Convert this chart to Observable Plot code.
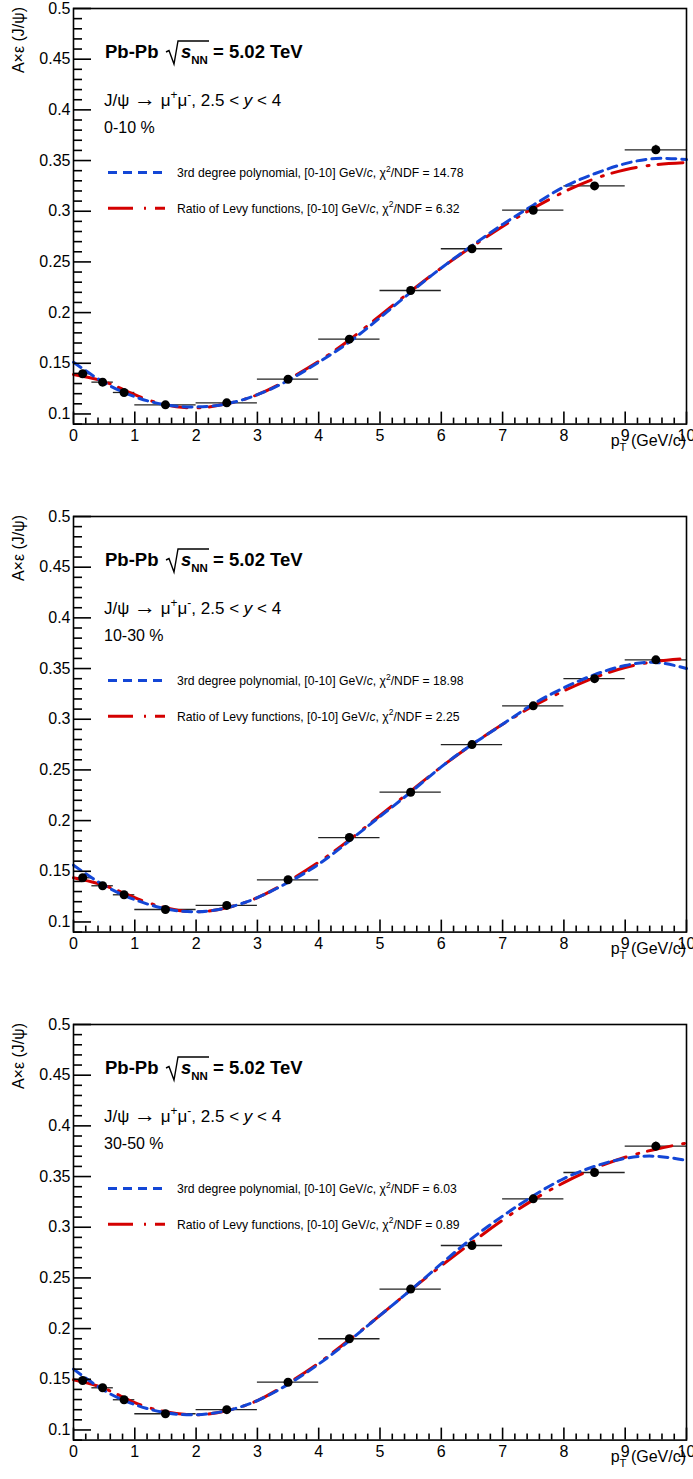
<!DOCTYPE html>
<html><head><meta charset="utf-8">
<script src="https://cdn.jsdelivr.net/npm/d3@7"></script>
<script src="https://cdn.jsdelivr.net/npm/@observablehq/plot@0.6"></script>
<style>
body{margin:0;background:#fff;}
#charts{width:693px;}
#charts svg{display:block;}
</style></head><body><div id="charts"></div>
<script>
// ---- data ----
const binLo = [0, 0.3, 0.65, 1, 2, 3, 4, 5, 6, 7, 8, 9];
const binHi = [0.3, 0.65, 1, 2, 3, 4, 5, 6, 7, 8, 9, 10];
const ptCenter = [0.15, 0.475, 0.825, 1.5, 2.5, 3.5, 4.5, 5.5, 6.5, 7.5, 8.5, 9.5];
const accEff_0_10  = [0.1397, 0.1314, 0.1212, 0.109, 0.111, 0.1343, 0.1738, 0.2218, 0.263, 0.301, 0.325, 0.3606];
const accEff_10_30 = [0.1436, 0.1357, 0.1268, 0.1123, 0.1163, 0.1416, 0.1833, 0.228, 0.275, 0.3132, 0.340, 0.3586];
const accEff_30_50 = [0.1488, 0.1416, 0.1298, 0.116, 0.120, 0.1471, 0.190, 0.239, 0.282, 0.328, 0.354, 0.380];
const accErr_0_10  = [0, 0, 0, 0, 0, 0, 0, 0, 0, 0, 0.002, 0.0045];
const accErr_10_30 = [0, 0, 0, 0, 0, 0, 0, 0, 0, 0, 0.002, 0.003];
const accErr_30_50 = [0, 0, 0, 0, 0, 0, 0, 0, 0, 0, 0.002, 0.004];

// fit curves at these pT values
const curvePt = [0, 0.5, 1, 1.5, 2, 2.5, 3, 3.5, 4, 4.5, 5, 5.5, 6, 6.5, 7, 7.5, 8, 8.5, 9, 9.5, 10];
const poly_0_10  = [0.151, 0.131, 0.117, 0.109, 0.107, 0.110, 0.119, 0.133, 0.151, 0.171, 0.195, 0.220, 0.244, 0.266, 0.287, 0.306, 0.324, 0.337, 0.347, 0.352, 0.351];
const levy_0_10  = [0.139, 0.132, 0.119, 0.109, 0.106, 0.110, 0.119, 0.134, 0.152, 0.173, 0.197, 0.221, 0.244, 0.265, 0.285, 0.303, 0.319, 0.332, 0.341, 0.346, 0.348];
const poly_10_30 = [0.156, 0.136, 0.122, 0.113, 0.110, 0.114, 0.124, 0.139, 0.157, 0.180, 0.204, 0.228, 0.253, 0.275, 0.295, 0.315, 0.331, 0.344, 0.353, 0.356, 0.350];
const levy_10_30 = [0.1436, 0.136, 0.124, 0.114, 0.110, 0.114, 0.124, 0.140, 0.159, 0.181, 0.205, 0.229, 0.253, 0.275, 0.295, 0.313, 0.328, 0.341, 0.351, 0.357, 0.360];
const poly_30_50 = [0.160, 0.139, 0.125, 0.117, 0.115, 0.119, 0.129, 0.145, 0.165, 0.188, 0.213, 0.238, 0.264, 0.289, 0.311, 0.331, 0.348, 0.360, 0.368, 0.370, 0.366];
const levy_30_50 = [0.1495, 0.141, 0.127, 0.118, 0.115, 0.119, 0.129, 0.146, 0.166, 0.189, 0.213, 0.238, 0.262, 0.285, 0.307, 0.327, 0.344, 0.358, 0.369, 0.377, 0.383];

const centralities = ["0-10 %", "10-30 %", "30-50 %"];
const chi2Poly = ["14.78", "18.98", "6.03"];
const chi2Levy = ["6.32", "2.25", "0.89"];

const yMajorTicks = [0.1, 0.15, 0.2, 0.25, 0.3, 0.35, 0.4, 0.45, 0.5];
const yTickLabels = ["0.1", "0.15", "0.2", "0.25", "0.3", "0.35", "0.4", "0.45", "0.5"];
const xMajorTicks = [0, 1, 2, 3, 4, 5, 6, 7, 8, 9, 10];
const xTickLabels = ["0", "1", "2", "3", "4", "5", "6", "7", "8", "9", "10"];

const panels = [
  {acc: accEff_0_10, err: accErr_0_10, poly: poly_0_10, levy: levy_0_10},
  {acc: accEff_10_30, err: accErr_10_30, poly: poly_10_30, levy: levy_10_30},
  {acc: accEff_30_50, err: accErr_30_50, poly: poly_30_50, levy: levy_30_50}
];

// ---- styling ----
const FONT = "'Liberation Sans', Arial, Helvetica, sans-serif";
const BLUE = "#1346d6", RED = "#d40000";
const BLUE_DASH = "9,6", RED_DASH = "25,11,2,9";
const Y_DOMAIN = [0.09, 0.5], X_DOMAIN = [0, 10];
const yMinorTicks = d3.range(0.09, 0.5001, 0.01).map(v => +v.toFixed(2)).filter(v => !yMajorTicks.some(m => Math.abs(m - v) < 1e-6));
const xMinorTicks = d3.range(0, 10.001, 0.2).map(v => +v.toFixed(1)).filter(v => !xMajorTicks.includes(v));

const W = 693, ML = 73, MR = 7, MT = 8, BOTTOM = 423.6;
const frameW = W - ML - MR, frameH = BOTTOM - MT;
// pixel tick lengths converted to data units
const kx = frameW / (X_DOMAIN[1] - X_DOMAIN[0]);
const ky = frameH / (Y_DOMAIN[1] - Y_DOMAIN[0]);
const AXIS_W = 1.6;

function rich(g, x, y, size, parts, attrs = {}) {
  const t = g.append("text").attr("x", x).attr("y", y).attr("font-size", size)
    .attr("font-family", FONT).attr("fill", "black").attr("text-anchor", "start").style("white-space", "pre");
  for (const [k, v] of Object.entries(attrs)) t.attr(k, v);
  let shift = 0;
  for (const p of parts) {
    const target = p.sup ? -0.42 * size : p.sub ? 0.3 * size : 0;
    const ts = t.append("tspan").attr("dy", target - shift).text(p.t);
    shift = target;
    if (p.sup || p.sub) ts.attr("font-size", size * (p.scale || 0.7));
    if (p.size) ts.attr("font-size", p.size);
    if (p.italic) ts.attr("font-style", "italic");
    if (p.bold) ts.attr("font-weight", "bold");
  }
  return t;
}

const container = document.getElementById("charts");
const heights = [508, 508, 463];

panels.forEach((p, i) => {
  const H = heights[i];
  const pts = ptCenter.map((c, k) => ({c, lo: binLo[k], hi: binHi[k], v: p.acc[k], e: p.err[k]}));
  const polyPts = curvePt.map((x, k) => ({x, y: p.poly[k]}));
  const levyPts = curvePt.map((x, k) => ({x, y: p.levy[k]}));
  const chart = Plot.plot({
    width: W, height: H,
    marginLeft: ML, marginRight: MR, marginTop: MT, marginBottom: H - BOTTOM,
    x: {domain: X_DOMAIN, axis: null},
    y: {domain: Y_DOMAIN, axis: null},
    style: {fontFamily: FONT, background: "white", color: "black", overflow: "hidden"},
    marks: [
      Plot.ruleY(pts, {x1: "lo", x2: "hi", y: "v", stroke: "#222", strokeWidth: 1.3}),
      Plot.ruleX(pts.filter(d => d.e > 0), {x: "c", y1: d => d.v - d.e, y2: d => d.v + d.e, stroke: "#222", strokeWidth: 1.3}),
      Plot.line(levyPts, {x: "x", y: "y", curve: "natural", stroke: RED, strokeWidth: 3, strokeDasharray: RED_DASH}),
      Plot.line(polyPts, {x: "x", y: "y", curve: "natural", stroke: BLUE, strokeWidth: 3, strokeDasharray: BLUE_DASH}),
      Plot.dot(pts, {x: "c", y: "v", r: 4.5, fill: "black"}),
      // inward ticks on the left and bottom frame edges
      Plot.ruleY(yMajorTicks, {y: d => d, x1: X_DOMAIN[0], x2: X_DOMAIN[0] + 18 / kx, stroke: "black", strokeWidth: AXIS_W}),
      Plot.ruleY(yMinorTicks, {y: d => d, x1: X_DOMAIN[0], x2: X_DOMAIN[0] + 9 / kx, stroke: "black", strokeWidth: AXIS_W}),
      Plot.ruleX(xMajorTicks, {x: d => d, y1: Y_DOMAIN[0], y2: Y_DOMAIN[0] + 12 / ky, stroke: "black", strokeWidth: AXIS_W}),
      Plot.ruleX(xMinorTicks, {x: d => d, y1: Y_DOMAIN[0], y2: Y_DOMAIN[0] + 6 / ky, stroke: "black", strokeWidth: AXIS_W}),
      Plot.frame({stroke: "black", strokeWidth: AXIS_W}),
      // tick labels
      Plot.text(yMajorTicks, {x: X_DOMAIN[0], y: d => d, text: (d, k) => yTickLabels[k], textAnchor: "end", dx: -3, fontSize: 16, lineAnchor: "middle"}),
      Plot.text(xMajorTicks, {x: d => d, y: Y_DOMAIN[0], text: (d, k) => xTickLabels[k], textAnchor: "middle", dy: 6, fontSize: 16, lineAnchor: "top"})
    ]
  });
  const svg = d3.select(chart);
  const g = svg.append("g");
  // axis titles
  rich(g, 686, 446, 16, [{t: "p"}, {t: "T", sub: true}, {t: " (GeV/c)"}], {"text-anchor": "end"});
  rich(g, 0, 0, 16, [{t: "A×ε (J/ψ)"}], {"text-anchor": "end", transform: "translate(24,7) rotate(-90)"});
  // header
  rich(g, 105, 58.3, 18.5, [{t: "Pb-Pb"}], {"font-weight": "bold"});
  // radical sign
  g.append("path").attr("d", "M166,52 L169,50.5 L174,64 L178,41 L209,41").attr("fill", "none").attr("stroke", "black").attr("stroke-width", 1.4);
  rich(g, 181, 58.3, 18.5, [{t: "s", italic: true}, {t: "NN", sub: true, scale: 0.62}], {"font-weight": "bold"});
  rich(g, 213, 58.3, 18.5, [{t: "= 5.02 TeV"}], {"font-weight": "bold"});
  rich(g, 104, 106, 17, [{t: "J/ψ "}, {t: "→", size: 22}, {t: " μ"}, {t: "+", sup: true}, {t: "μ"}, {t: "-", sup: true}, {t: ", 2.5 < "}, {t: "y", italic: true}, {t: " < 4"}]);
  rich(g, 104, 133.3, 16, [{t: centralities[i]}]);
  // legend
  g.append("line").attr("x1", 108).attr("x2", 165).attr("y1", 172.5).attr("y2", 172.5)
    .attr("stroke", BLUE).attr("stroke-width", 3).attr("stroke-dasharray", BLUE_DASH);
  g.append("line").attr("x1", 108).attr("x2", 165).attr("y1", 208.3).attr("y2", 208.3)
    .attr("stroke", RED).attr("stroke-width", 3).attr("stroke-dasharray", RED_DASH);
  rich(g, 177, 176.8, 12.2, [{t: "3rd degree polynomial, [0-10] GeV/"}, {t: "c", italic: true}, {t: ", χ"}, {t: "2", sup: true}, {t: "/NDF = " + chi2Poly[i]}]);
  rich(g, 177, 212.6, 12.2, [{t: "Ratio of Levy functions, [0-10] GeV/"}, {t: "c", italic: true}, {t: ", χ"}, {t: "2", sup: true}, {t: "/NDF = " + chi2Levy[i]}]);
  container.appendChild(chart);
});
</script>
</body></html>
